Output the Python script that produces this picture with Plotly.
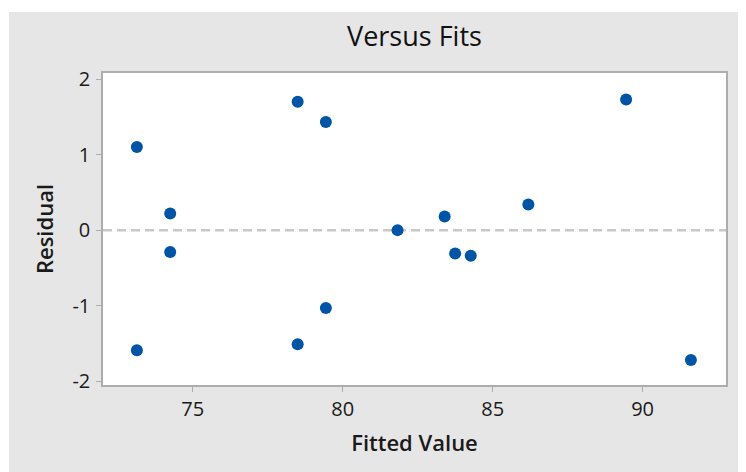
import plotly.graph_objects as go

fitted = [73.14, 73.14, 74.25, 74.25, 78.50, 78.50, 79.44, 79.44, 81.83,
          83.40, 83.75, 84.27, 86.19, 89.45, 91.61]
residual = [1.10, -1.59, 0.22, -0.29, 1.70, -1.51, 1.43, -1.03, 0.00,
            0.18, -0.31, -0.34, 0.34, 1.73, -1.72]
x_ticks = [75, 80, 85, 90]
y_ticks = [-2, -1, 0, 1, 2]
y_tick_labels = ["-2", "-1", "0", "1", "2"]

# page body has an 8px margin, so the figure is sized to fit the window
W, H = 738, 464
L, R, T, B = 95, 20, 65, 87
pw, ph = W - L - R, H - T - B

FONT = "Open Sans"
GRAY = "#e6e6e6"
TXT = "#1a1a1a"

fig = go.Figure()
fig.add_trace(go.Scatter(
    x=fitted, y=residual, mode="markers",
    marker=dict(color="#0054a6", size=12, line=dict(width=0)),
    hoverinfo="x+y", showlegend=False,
))

fig.add_hline(y=0, line=dict(color="#c8c8c8", width=2.5, dash="9px,5px"),
              layer="below")

# thin white strips at the left and top edges of the figure
fig.add_shape(type="rect", xref="paper", yref="paper", layer="below",
              x0=-L / pw, x1=-(L - 1) / pw, y0=-B / ph, y1=1 + T / ph,
              fillcolor="white", line=dict(width=0))
fig.add_shape(type="rect", xref="paper", yref="paper", layer="below",
              x0=-L / pw, x1=1 + R / pw, y0=1 + (T - 4) / ph, y1=1 + T / ph,
              fillcolor="white", line=dict(width=0))

axis_common = dict(
    showgrid=False, zeroline=False, showline=True, mirror=True,
    linecolor="#adadad", linewidth=1.5,
    ticks="outside", ticklen=5, tickcolor="#adadad", tickwidth=1,
    tickfont=dict(family=FONT, size=20, color=TXT),
)

fig.update_layout(
    width=W, height=H,
    margin=dict(l=L, r=R, t=T, b=B),
    paper_bgcolor=GRAY, plot_bgcolor="white",
    title=dict(text="Versus Fits", x=(L + pw / 2) / W, xanchor="center",
               y=1 - 29 / H, yanchor="middle",
               font=dict(family=FONT, size=27, color="#111111", weight=500)),
    xaxis=dict(range=[72.01, 92.78], tickvals=x_ticks,
               title=dict(text="Fitted Value", standoff=15,
                          font=dict(family=FONT, size=22, color=TXT, weight=600)),
               **axis_common),
    yaxis=dict(range=[-2.05, 2.08], tickvals=y_ticks, ticktext=y_tick_labels,
               ticklabelstandoff=2,
               title=dict(text="Residual", standoff=13,
                          font=dict(family=FONT, size=22, color=TXT, weight=600)),
               **axis_common),
)

fig.write_html("out.html")
